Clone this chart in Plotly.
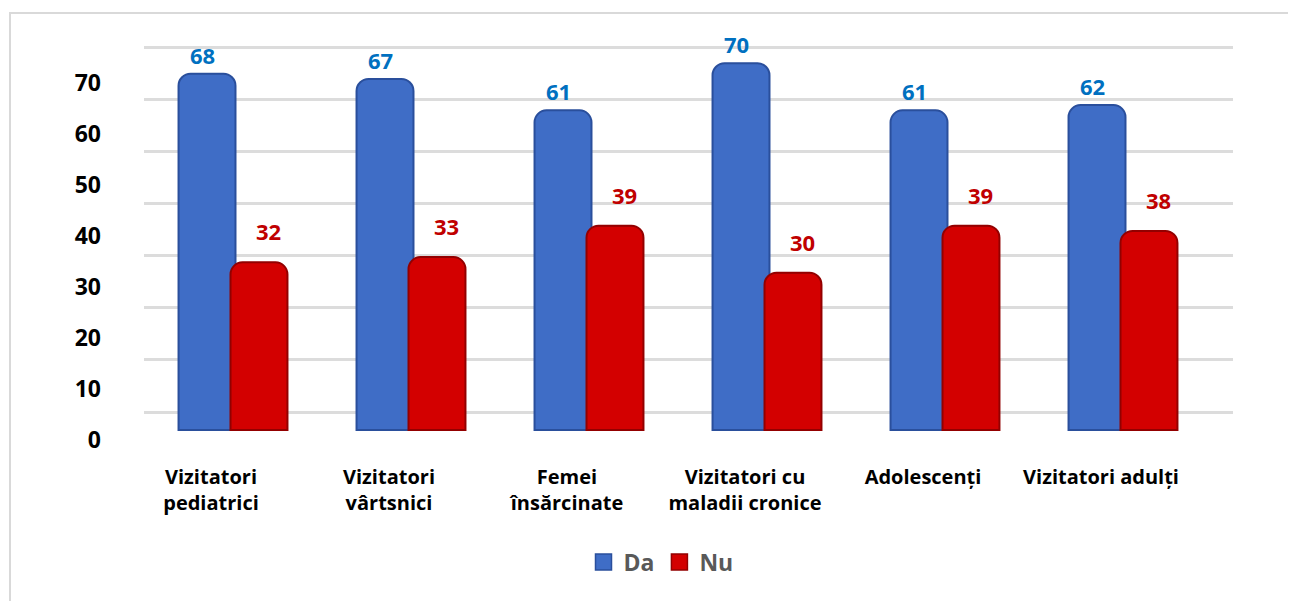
import plotly.graph_objects as go

categories = ["Vizitatori<br>pediatrici", "Vizitatori<br>vârtsnici", "Femei<br>însărcinate",
              "Vizitatori cu<br>maladii cronice", "Adolescenți", "Vizitatori adulți"]
da_values = [68, 67, 61, 70, 61, 62]
nu_values = [32, 33, 39, 30, 39, 38]
y_ticks = [0, 10, 20, 30, 40, 50, 60, 70]

W, H = 1296, 601
OFF = 8  # page body margin of the browser
# plot area on the page: x 144..1233, y 25..445
L, R, T, B = 144 - OFF, W - (1233 - OFF), 25 - OFF, H - (445 - OFF)
FONT = "Open Sans"

fig = go.Figure()
fig.add_trace(go.Bar(
    x=categories, y=da_values, name="Da", showlegend=False,
    width=0.32, offset=-0.306,
    marker=dict(color="#3F6DC6", line=dict(color="#2A4F9C", width=2), cornerradius=12),
    yaxis="y",
))
fig.add_trace(go.Bar(
    x=categories, y=nu_values, name="Nu", showlegend=False,
    width=0.32, offset=-0.014,
    marker=dict(color="#D30000", line=dict(color="#930000", width=2), cornerradius=12),
    yaxis="y",
))
# legend entries (square swatches)
fig.add_trace(go.Scatter(x=[None], y=[None], name="Da", mode="markers",
                         marker=dict(symbol="square", size=16, color="#3F6DC6",
                                     line=dict(color="#2A4F9C", width=1.5))))
fig.add_trace(go.Scatter(x=[None], y=[None], name="Nu", mode="markers",
                         marker=dict(symbol="square", size=16, color="#D30000",
                                     line=dict(color="#930000", width=1.5))))

annotations = []
for c, v in zip(categories, da_values):
    annotations.append(dict(x=c, y=v, xref="x", yref="y", text=str(v), showarrow=False,
                            xshift=-31, yshift=19,
                            font=dict(family=FONT, size=22, color="#0070C0", weight="bold")))
for c, v in zip(categories, nu_values):
    annotations.append(dict(x=c, y=v, xref="x", yref="y", text=str(v), showarrow=False,
                            xshift=35, yshift=31,
                            font=dict(family=FONT, size=22, color="#C00000", weight="bold")))

plot_h = H - T - B
plot_w = W - L - R
fig.update_layout(
    width=W, height=H,
    margin=dict(l=L, r=R, t=T, b=B),
    paper_bgcolor="white", plot_bgcolor="rgba(0,0,0,0)",
    barmode="overlay",
    font=dict(family=FONT),
    xaxis=dict(
        type="category", range=[-0.5, 5.618],
        showgrid=False, zeroline=False, showline=False, ticks="",
        tickfont=dict(family=FONT, size=20, color="#000000", weight="bold"),
        ticklabelshift=-22, ticklabelstandoff=18,
    ),
    # bars axis
    yaxis=dict(
        range=[-15 / 5.24, (430 - 25) / 5.24],
        showgrid=False, zeroline=False, showline=False, showticklabels=False, ticks="",
    ),
    # visible labels axis
    yaxis2=dict(
        overlaying="y", side="left", anchor="x",
        range=[-5 / 5.1, (440 - 25) / 5.1],
        tickvals=y_ticks, showgrid=False, zeroline=False, showline=False, ticks="",
        tickfont=dict(family=FONT, size=23, color="#000000", weight="bold"),
        ticklabelstandoff=42,
    ),
    # back wall gridlines axis
    yaxis3=dict(
        overlaying="y", side="left", anchor="x",
        range=[-33 / 5.214, (412 - 25) / 5.214],
        tickvals=y_ticks, showgrid=True, gridcolor="#DCDCDC", gridwidth=3,
        zeroline=False, showline=False, showticklabels=False, ticks="",
    ),
    legend=dict(
        orientation="h", x=(661 - 144) / 1089, xanchor="center",
        y=-(562 - 445) / 420, yanchor="middle",
        font=dict(family=FONT, size=23, color="#595959", weight="bold"),
        itemsizing="trace", itemwidth=30, tracegroupgap=0,
    ),
    annotations=annotations,
    shapes=[dict(type="rect", xref="paper", yref="paper",
                 x0=(2 - L) / plot_w, x1=1.3,
                 y0=-0.8, y1=(T + plot_h - 5) / plot_h,
                 line=dict(color="#D9D9D9", width=2), layer="below")],
)

# invisible traces to attach the overlay axes
fig.add_trace(go.Scatter(x=[categories[0]], y=[0], yaxis="y2", mode="markers",
                         marker=dict(opacity=0), showlegend=False, hoverinfo="skip"))
fig.add_trace(go.Scatter(x=[categories[0]], y=[0], yaxis="y3", mode="markers",
                         marker=dict(opacity=0), showlegend=False, hoverinfo="skip"))

fig.write_html("out.html")
